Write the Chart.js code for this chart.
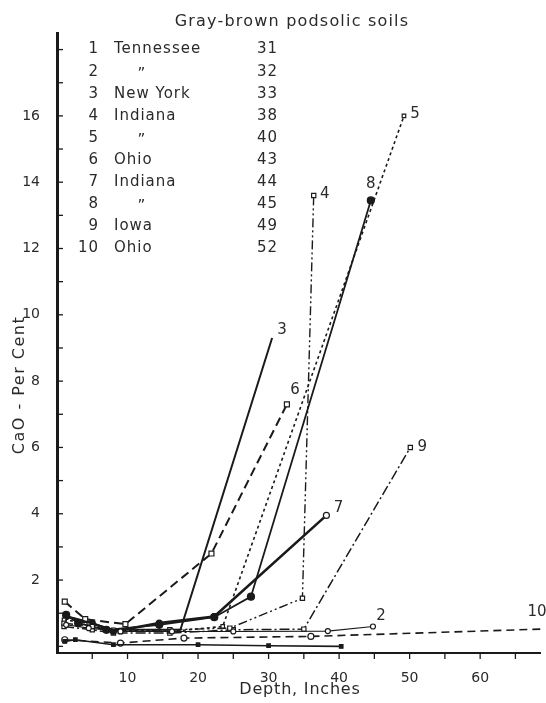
<!DOCTYPE html>
<html><head><meta charset="utf-8">
<script src="https://cdn.jsdelivr.net/npm/chart.js@4/dist/chart.umd.min.js"></script>
<style>html,body{margin:0;padding:0;background:#fff}#wrap{width:546px;height:703px;position:relative}</style>
</head><body><div id="wrap"><canvas id="c" width="546" height="703"></canvas></div>
<script>
// ---- text ----
const chartTitle = "Gray-brown podsolic soils";
const xAxisTitle = "Depth, Inches";
const yAxisTitle = "CaO - Per Cent";
const seriesNumbers = ["1","2","3","4","5","6","7","8","9","10"];
const seriesNames = ["Tennessee","\u201D","New York","Indiana","\u201D","Ohio","Indiana","\u201D","Iowa","Ohio"];
const profileNumbers = ["31","32","33","38","40","43","44","45","49","52"];
const xTickLabels = [10,20,30,40,50,60];
const yTickLabels = [0,2,4,6,8,10,12,14,16];

// ---- data (depth in inches, CaO per cent) ----
const s1Depth = [1.1, 2.6, 8, 20, 30, 40.3];
const s1CaO   = [0.15, 0.2, 0.05, 0.05, 0.02, 0.0];
const s2Depth = [1.3, 4.5, 9, 16.3, 25, 38.4, 44.8];
const s2CaO   = [0.65, 0.55, 0.45, 0.45, 0.45, 0.46, 0.6];
const s3Depth = [1.3, 4, 8, 17.5, 30.5];
const s3CaO   = [0.9, 0.75, 0.5, 0.5, 9.3];
const s4Depth = [1, 5, 9, 16, 24.5, 34.8, 36.4];
const s4CaO   = [0.7, 0.6, 0.45, 0.5, 0.55, 1.45, 13.6];
const s5Depth = [1, 4.5, 8, 16, 23.5, 49.2];
const s5CaO   = [0.8, 0.7, 0.5, 0.45, 0.6, 16.0];
const s6Depth = [1.1, 4, 9.7, 21.9, 32.6];
const s6CaO   = [1.35, 0.82, 0.67, 2.8, 7.3];
const s7Depth = [1.3, 5, 8, 14.5, 22.3, 38.2];
const s7CaO   = [0.9, 0.7, 0.45, 0.7, 0.9, 3.95];
const s8Depth = [1.3, 3, 7, 14.5, 22.3, 27.5, 44.5];
const s8CaO   = [0.95, 0.7, 0.5, 0.65, 0.88, 1.5, 13.45];
const s9Depth = [1, 5, 8, 16, 25, 35, 50.1];
const s9CaO   = [0.6, 0.5, 0.4, 0.4, 0.5, 0.52, 6.0];
const s10Depth = [1.1, 9, 18, 36, 70];
const s10CaO   = [0.2, 0.1, 0.25, 0.3, 0.53];

const depths = [s1Depth,s2Depth,s3Depth,s4Depth,s5Depth,s6Depth,s7Depth,s8Depth,s9Depth,s10Depth];
const caos = [s1CaO,s2CaO,s3CaO,s4CaO,s5CaO,s6CaO,s7CaO,s8CaO,s9CaO,s10CaO];

const INK = '#1a1a1a';
const TXT = '#2a2a2a';
const FONT = 'DejaVu Sans';
// style per series
const styles = [
  {dash:[], w:1.6, ps:'rect', r:2.5, fill:true},
  {dash:[], w:1.1, ps:'circle', r:2.5, fill:false},
  {dash:[], w:2.0, ps:'circle', r:0, fill:true},
  {dash:[9,3,2,3,2,3], w:1.4, ps:'rect', r:3, fill:false},
  {dash:[3,3], w:1.6, ps:'rect', r:2.5, fill:false},
  {dash:[9,5], w:2.0, ps:'rect', r:3.5, fill:false},
  {dash:[], w:2.6, ps:'circle', r:3, fill:true, lastOpen:true},
  {dash:[], w:1.8, ps:'circle', r:3.5, fill:true},
  {dash:[10,3,2,3], w:1.5, ps:'rect', r:3, fill:false},
  {dash:[8,5], w:1.6, ps:'circle', r:3, fill:false}
];

const datasets = depths.map((d, i) => {
  const st = styles[i];
  const n = d.length;
  return {
    label: seriesNumbers[i] + ' ' + seriesNames[i] + ' ' + profileNumbers[i],
    data: d.map((x, j) => ({x: x, y: caos[i][j]})),
    showLine: true,
    borderColor: INK,
    borderWidth: st.w,
    borderDash: st.dash,
    pointStyle: st.ps,
    pointRadius: st.r,
    pointBorderWidth: 1.2,
    pointBorderColor: INK,
    pointBackgroundColor: (ctx) => (st.fill && !(st.lastOpen && ctx.dataIndex === n - 1)) ? INK : '#fff',
    tension: 0,
    fill: false
  };
});

// end-of-line labels: offsets in px from last point
const endLabelOffsets = [null,[8,-10],[10,-8],[11,-1],[11,-2],[8,-14],[12,-7],[0,-16],[12,0],null];

function spaced(ctx, s) { if ('letterSpacing' in ctx) ctx.letterSpacing = s + 'px'; }

const deco = {
  id: 'deco',
  afterDraw(chart) {
    const {ctx, chartArea: a, scales: {x, y}} = chart;
    ctx.save();
    ctx.strokeStyle = INK; ctx.fillStyle = TXT; ctx.lineWidth = 1.3;
    // y ticks (inside)
    for (let v = 0; v <= 18; v++) {
      const py = y.getPixelForValue(v);
      ctx.beginPath(); ctx.moveTo(a.left, py); ctx.lineTo(a.left + 6, py); ctx.stroke();
    }
    // x ticks (below)
    for (let v = 5; v <= 65; v += 5) {
      const px = x.getPixelForValue(v);
      ctx.beginPath(); ctx.moveTo(px, a.bottom); ctx.lineTo(px, a.bottom + 6); ctx.stroke();
    }
    ctx.textBaseline = 'middle';
    // title
    ctx.font = '16px "' + FONT + '"';
    spaced(ctx, 1.2);
    ctx.textAlign = 'center';
    ctx.fillText(chartTitle, 292, 22);
    // x title
    spaced(ctx, 0.8);
    ctx.fillText(xAxisTitle, 300, 690);
    // y title
    ctx.save();
    spaced(ctx, 1.5);
    ctx.translate(20, 385); ctx.rotate(-Math.PI / 2);
    ctx.fillText(yAxisTitle, 0, 0);
    ctx.restore();
    // legend table
    ctx.font = '15px "' + FONT + '"';
    spaced(ctx, 1);
    for (let i = 0; i < 10; i++) {
      const rowY = y.getPixelForValue(18.667 - 0.6667 * (i + 1));
      ctx.textAlign = 'right'; ctx.fillText(seriesNumbers[i], 99, rowY);
      if (seriesNames[i] === '\u201D') { ctx.textAlign = 'center'; ctx.fillText(seriesNames[i], 142, rowY + 3); }
      else { ctx.textAlign = 'left'; ctx.fillText(seriesNames[i], 114, rowY); }
      ctx.textAlign = 'left'; ctx.fillText(profileNumbers[i], 257, rowY);
    }
    // end labels
    ctx.font = '15px "' + FONT + '"';
    spaced(ctx, 0);
    ctx.textAlign = 'center';
    chart.data.datasets.forEach((ds, i) => {
      const off = endLabelOffsets[i];
      if (!off) return;
      const p = ds.data[ds.data.length - 1];
      ctx.fillText(seriesNumbers[i], x.getPixelForValue(p.x) + off[0], y.getPixelForValue(p.y) + off[1]);
    });
    // label 10 at right edge, just above its line
    const ds10 = chart.data.datasets[9].data;
    const pLast = ds10[ds10.length - 1];
    ctx.textAlign = 'left';
    ctx.fillText(seriesNumbers[9], x.getPixelForValue(66.7), y.getPixelForValue(pLast.y) - 17);
    ctx.restore();
  }
};

new Chart(document.getElementById('c'), {
  type: 'scatter',
  data: {datasets},
  options: {
    responsive: false,
    animation: false,
    devicePixelRatio: 1,
    layout: {padding: {left: 0, right: 0, top: 33, bottom: 0}},
    plugins: {legend: {display: false}, tooltip: {enabled: false}, title: {display: false}},
    scales: {
      x: {
        type: 'linear', min: 0, max: 68.6,
        grid: {display: false},
        border: {display: true, color: INK, width: 2},
        ticks: {
          stepSize: 5, padding: 9, color: TXT, maxRotation: 0, autoSkip: false,
          font: {family: FONT, size: 14},
          callback: (v) => xTickLabels.includes(v) ? String(v) : ''
        },
        afterFit: (s) => { s.height = 50; s.paddingLeft = 0; s.paddingRight = 0; }
      },
      y: {
        type: 'linear', min: -0.2, max: 18.5,
        grid: {display: false},
        border: {display: true, color: INK, width: 3},
        ticks: {
          stepSize: 1, padding: 9, color: TXT, autoSkip: false,
          font: {family: FONT, size: 14},
          callback: (v) => yTickLabels.includes(v) ? String(v) : ''
        },
        afterFit: (s) => { s.width = 57; s.paddingTop = 0; s.paddingBottom = 0; }
      }
    }
  },
  plugins: [deco]
});
</script>
</body></html>
